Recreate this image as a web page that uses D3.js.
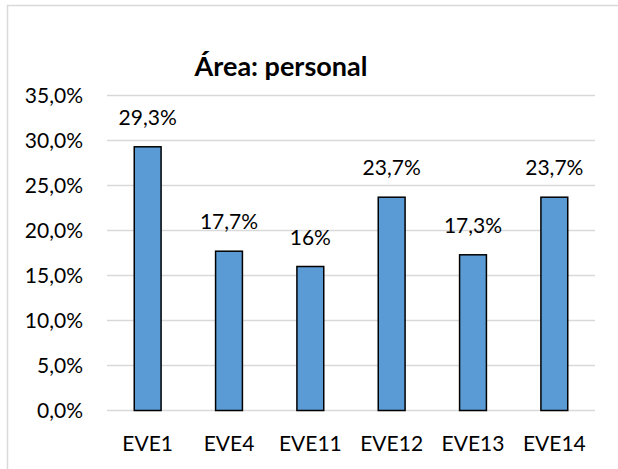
<!DOCTYPE html>
<html><head><meta charset="utf-8">
<script src="https://cdn.jsdelivr.net/npm/d3@7"></script>
<style>body{margin:0;background:#fff}svg{display:block}text{font-family:Lato,"Liberation Sans",sans-serif;fill:#000}</style>
</head><body>
<script>
const categories = ["EVE1","EVE4","EVE11","EVE12","EVE13","EVE14"];
const values = [29.3, 17.7, 16, 23.7, 17.3, 23.7];
const valueLabels = ["29,3%","17,7%","16%","23,7%","17,3%","23,7%"];
const yTicks = [0,5,10,15,20,25,30,35];
const title = "Área: personal";

const W = 618, H = 469;
const svg = d3.select("body").append("svg").attr("width", W).attr("height", H);
svg.append("rect").attr("x",7.5).attr("y",5.5).attr("width",W).attr("height",H)
  .attr("fill","none").attr("stroke","#d9d9d9").attr("stroke-width",1.5);

const x = d3.scaleBand().domain(categories).range([107,595]).paddingInner(0.67).paddingOuter(0.335);
const y = d3.scaleLinear().domain([0,35]).range([410.5,95.5]);

const fmt = v => d3.format(".1f")(v).replace(".", ",") + "%";

svg.append("g").selectAll("line").data(yTicks).join("line")
  .attr("x1",107).attr("x2",595).attr("y1",d=>y(d)).attr("y2",d=>y(d))
  .attr("stroke","#d9d9d9").attr("stroke-width",1.5);

const yAxis = d3.axisLeft(y).tickValues(yTicks).tickFormat(fmt).tickSize(0).tickPadding(0);
const ga = svg.append("g").attr("transform","translate(83,0)").call(yAxis);
ga.select(".domain").remove();
ga.selectAll("text").style("font-size","21px").attr("font-family",null);

svg.append("g").selectAll("rect").data(values).join("rect")
  .attr("x",(d,i)=>x(categories[i])).attr("width",x.bandwidth())
  .attr("y",d=>y(d)).attr("height",d=>y(0)-y(d))
  .attr("fill","#5b9bd5").attr("stroke","#000").attr("stroke-width",1.5);

svg.append("g").selectAll("text").data(values).join("text")
  .attr("x",(d,i)=>x(categories[i])+x.bandwidth()/2).attr("y",d=>y(d)-22)
  .attr("text-anchor","middle").style("font-size","21px").text((d,i)=>valueLabels[i]);

const xAxis = d3.axisBottom(x).tickSize(0).tickPadding(0);
const gx = svg.append("g").attr("transform","translate(0,451)").call(xAxis);
gx.select(".domain").remove();
gx.selectAll("text").attr("dy",0).style("font-size","21px").attr("font-family",null);

svg.append("text").attr("x",281).attr("y",76).attr("text-anchor","middle")
  .style("font-size","27px").style("font-weight","bold").text(title);
</script>
</body></html>
